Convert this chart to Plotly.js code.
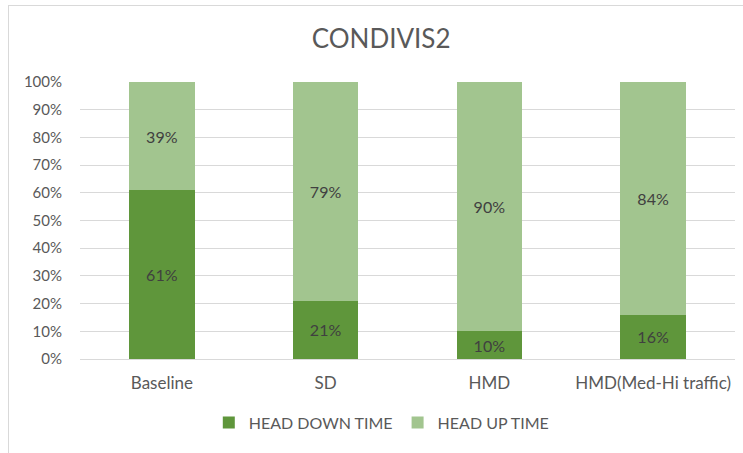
<!DOCTYPE html>
<html>
<head>
<meta charset="utf-8">
<script src="https://cdn.plot.ly/plotly-3.0.1.min.js"></script>
<style>
html,body{margin:0;padding:0;background:#fff;}
#wrap{position:relative;width:743px;height:453px;overflow:hidden;}
#chart{position:absolute;left:0;top:0;width:743px;height:453px;}
#frame{position:absolute;left:8px;top:5px;width:760px;height:460px;border:1px solid #d9d9d9;pointer-events:none;}
</style>
</head>
<body>
<div id="wrap"><div id="chart"></div><div id="frame"></div></div>
<script>
const categories = ["Baseline", "SD", "HMD", "HMD(Med-Hi traffic)"];
const headDown = [61, 21, 10, 16];
const headUp = [39, 79, 90, 84];
const seriesNames = ["HEAD DOWN TIME", "HEAD UP TIME"];
const yTicks = [0,10,20,30,40,50,60,70,80,90,100];
const yTickLabels = yTicks.map(v => v + "%");

const FONT = 'Lato, "Open Sans", sans-serif';

const traces = [
  {
    type: "bar", name: seriesNames[0], x: categories, y: headDown,
    marker: {color: "#5f963b"},
    text: headDown.map(v => v + "%"), textposition: "inside", insidetextanchor: "middle",
    textfont: {family: FONT, size: 16, color: "#404040"},
    hoverinfo: "none"
  },
  {
    type: "bar", name: seriesNames[1], x: categories, y: headUp,
    marker: {color: "#a2c58f"},
    text: headUp.map(v => v + "%"), textposition: "inside", insidetextanchor: "middle",
    textfont: {family: FONT, size: 16, color: "#404040"},
    hoverinfo: "none"
  }
];

const layout = {
  width: 743, height: 453,
  margin: {l: 80, r: 8, t: 82, b: 94},
  paper_bgcolor: "#fff", plot_bgcolor: "#fff",
  barmode: "stack", bargap: 0.6,
  font: {family: FONT, color: "#595959", size: 15},
  title: {text: "CONDIVIS2", font: {family: FONT, size: 26, color: "#595959"}, x: 0.513, xanchor: "center", y: 0.088, yanchor: "middle"},
  xaxis: {
    type: "category", showgrid: false, zeroline: false,
    showline: true, linecolor: "#d9d9d9", linewidth: 1,
    ticks: "", tickfont: {family: FONT, size: 17, color: "#595959"},
    ticklabelstandoff: 9
  },
  yaxis: {
    range: [0, 100], tickvals: yTicks, ticktext: yTickLabels,
    showgrid: true, gridcolor: "#d9d9d9", gridwidth: 1,
    zeroline: false, showline: false, ticks: "",
    tickfont: {family: FONT, size: 15, color: "#595959"},
    ticklabelstandoff: 17
  },
  showlegend: true,
  legend: {
    orientation: "h", x: 0.46, xanchor: "center", y: -0.23, yanchor: "middle",
    font: {family: FONT, size: 16, color: "#595959"},
    traceorder: "normal", itemwidth: 30
  }
};
layout.title.y = 1 - 39 / 453;

Plotly.newPlot("chart", traces, layout, {staticPlot: true, displayModeBar: false});
</script>
</body>
</html>
